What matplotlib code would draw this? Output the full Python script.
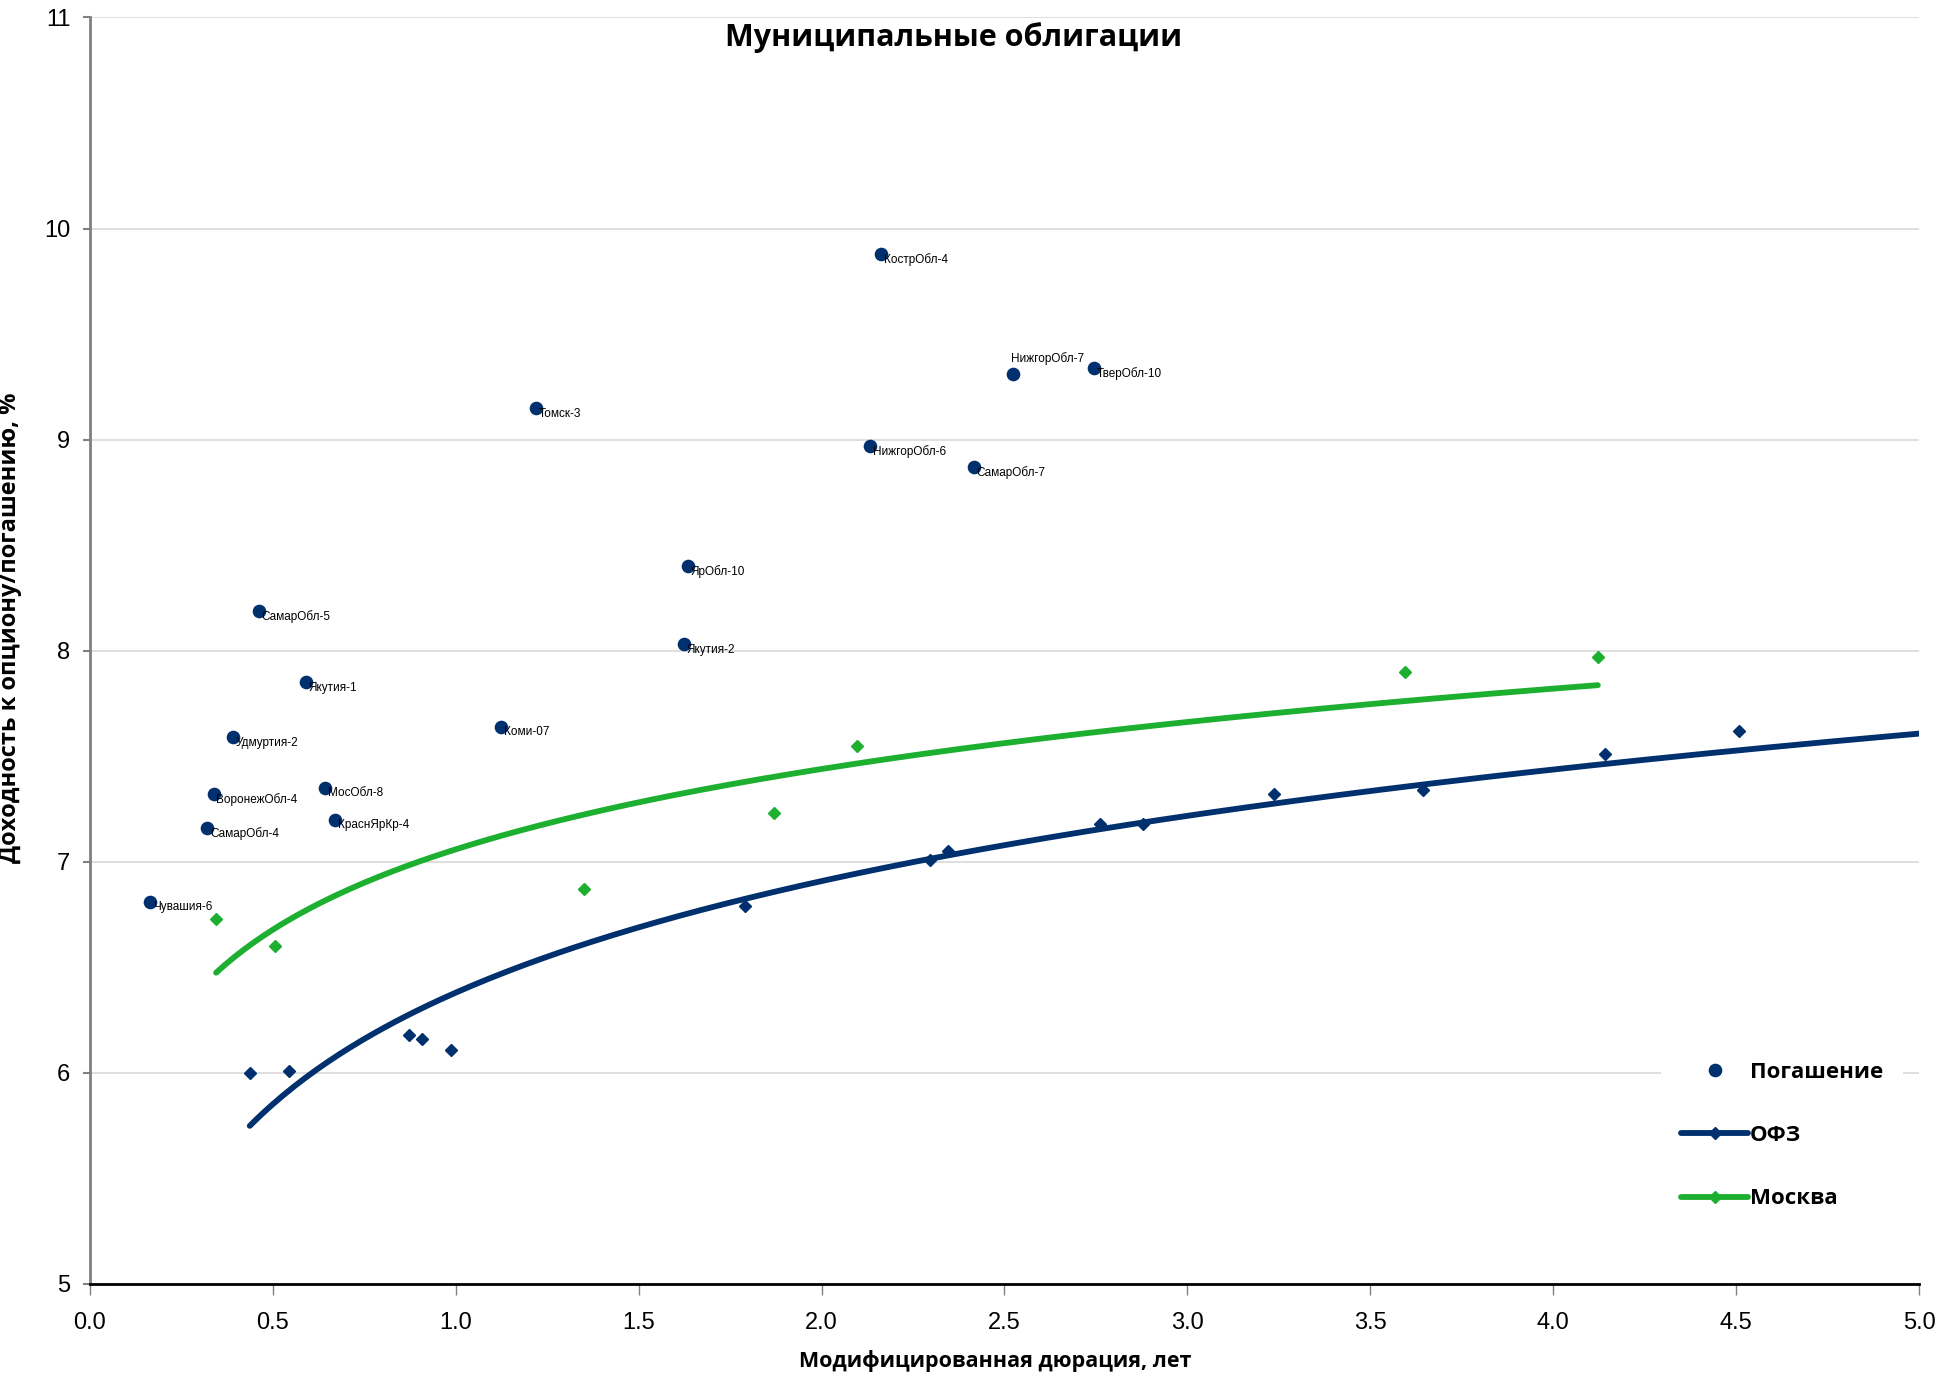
import numpy as np
import matplotlib
matplotlib.use('Agg')
import matplotlib.pyplot as plt
from matplotlib.lines import Line2D

# Муниципальные облигации: дюрация (лет) и доходность (%)
muni_names = ['КострОбл-4', 'НижгорОбл-7', 'ТверОбл-10', 'Томск-3', 'НижгорОбл-6',
              'СамарОбл-7', 'ЯрОбл-10', 'Якутия-2', 'СамарОбл-5', 'Якутия-1',
              'Коми-07', 'Удмуртия-2', 'МосОбл-8', 'ВоронежОбл-4', 'КраснЯрКр-4',
              'СамарОбл-4', 'Чувашия-6']
muni_dur = [2.163, 2.522, 2.744, 1.220, 2.133, 2.416, 1.634, 1.623, 0.461, 0.591,
            1.124, 0.390, 0.643, 0.338, 0.670, 0.321, 0.164]
muni_yld = [9.88, 9.31, 9.34, 9.15, 8.97, 8.87, 8.40, 8.03, 8.19, 7.85,
            7.64, 7.59, 7.35, 7.32, 7.20, 7.16, 6.81]

# ОФЗ
ofz_dur = [0.437, 0.543, 0.872, 0.909, 0.988, 1.791, 2.297, 2.345, 2.761, 2.878,
           3.236, 3.643, 4.142, 4.508]
ofz_yld = [6.00, 6.01, 6.18, 6.16, 6.11, 6.79, 7.01, 7.05, 7.18, 7.18,
           7.32, 7.34, 7.51, 7.62]

# Москва
msk_dur = [0.345, 0.506, 1.350, 1.869, 2.098, 3.595, 4.122]
msk_yld = [6.73, 6.60, 6.87, 7.23, 7.55, 7.90, 7.97]

navy = '#00306E'
green = '#1DAF30'
bold_font = ['Open Sans', 'DejaVu Sans']
narrow_font = ['Liberation Sans Narrow', 'Liberation Sans', 'DejaVu Sans']

fig = plt.figure(figsize=(19.59, 13.76), dpi=100)
ax = fig.add_axes([0.0459, 0.0669, 0.9337, 0.9204])

ax.set_xlim(0, 5)
ax.set_ylim(5, 11)
ax.set_yticks(range(5, 12))
ax.set_xticks(np.arange(0, 5.01, 0.5))
ax.set_xticklabels([f'{v:.1f}' for v in np.arange(0, 5.01, 0.5)])
ax.grid(axis='y', color='#D9D9D9', linewidth=1.2)
ax.set_axisbelow(True)

for side in ['top', 'right']:
    ax.spines[side].set_visible(False)
ax.spines['left'].set_color('#808080')
ax.spines['left'].set_linewidth(2)
ax.spines['bottom'].set_color('black')
ax.spines['bottom'].set_linewidth(2)
ax.tick_params(axis='y', length=5, width=1.5, color='#808080', pad=9, labelsize=17)
ax.tick_params(axis='x', length=8, width=1, color='#808080', pad=12, labelsize=17)
for lab in ax.get_xticklabels() + ax.get_yticklabels():
    lab.set_family(narrow_font)

# логарифмические линии тренда
def log_trend(x, y, x_end):
    b, a = np.polyfit(np.log(x), y, 1)
    xs = np.linspace(min(x), x_end, 300)
    return xs, a + b * np.log(xs)

xs, ys = log_trend(ofz_dur, ofz_yld, 5.0)
ax.plot(xs, ys, color=navy, linewidth=4.2, solid_capstyle='round', zorder=3)
xs, ys = log_trend(msk_dur, msk_yld, max(msk_dur))
ax.plot(xs, ys, color=green, linewidth=4.2, solid_capstyle='round', zorder=3)

ax.plot(ofz_dur, ofz_yld, 'D', color=navy, markersize=6.3, linestyle='none', zorder=4)
ax.plot(msk_dur, msk_yld, 'D', color=green, markersize=6.3, linestyle='none', zorder=4)
ax.plot(muni_dur, muni_yld, 'o', color=navy, markersize=8.8, linestyle='none', zorder=5)

for name, x, y in zip(muni_names, muni_dur, muni_yld):
    if name == 'НижгорОбл-7':
        off = (-1, 11)
    else:
        off = (2, -4)
    ax.annotate(name, (x, y), xytext=off, textcoords='offset points',
                ha='left', va='center', fontsize=8.5, family=narrow_font, zorder=6)

ax.text(0.472, 0.984, 'Муниципальные облигации', transform=ax.transAxes,
        ha='center', va='center', fontsize=22, fontweight='bold', family=bold_font)
ax.set_xlabel('Модифицированная дюрация, лет', fontsize=15.5, fontweight='bold',
              family=bold_font)
ax.set_ylabel('Доходность к опциону/погашению, %', fontsize=17, fontweight='bold',
              family=bold_font)
ax.xaxis.set_label_coords(0.495, -0.052)
ax.yaxis.set_label_coords(-0.037, 0.518)

handles = [
    Line2D([], [], marker='o', color=navy, markersize=8.8, linestyle='none'),
    Line2D([], [], marker='D', color=navy, markersize=6.3, linewidth=4.2,
           solid_capstyle='round'),
    Line2D([], [], marker='D', color=green, markersize=6.3, linewidth=4.2,
           solid_capstyle='round'),
]
leg = ax.legend(handles, ['Погашение', 'ОФЗ', 'Москва'], loc='center left',
                bbox_to_anchor=(0.853, 0.117), frameon=True, fancybox=False,
                framealpha=1, edgecolor='none', handlelength=3.0,
                handletextpad=0.1, labelspacing=1.9, borderpad=0.9,
                prop={'family': bold_font, 'weight': 'bold', 'size': 16})

fig.savefig('out.png', dpi=100)
